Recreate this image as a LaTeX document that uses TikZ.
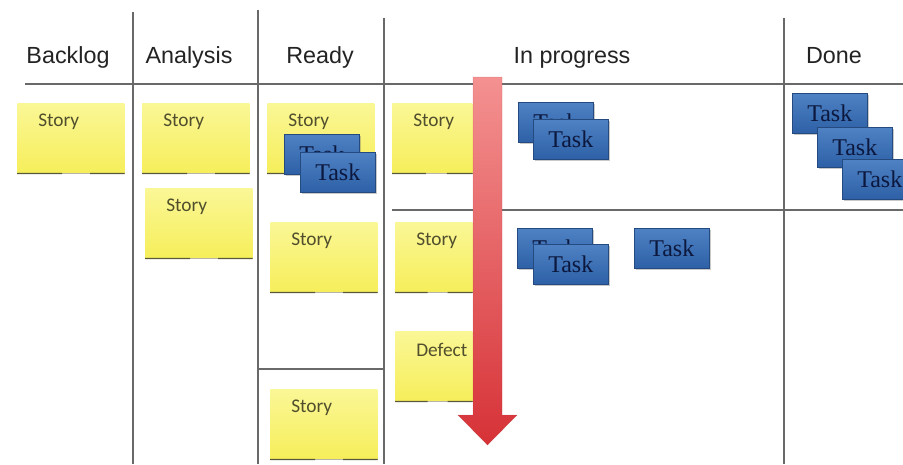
\documentclass[tikz,border=0pt]{standalone}
\usepackage{fontspec}
\setmainfont{Liberation Sans}
\newfontfamily\stickyfont{Carlito}
\newfontfamily\taskfont{Liberation Serif}
\usetikzlibrary{calc,shadows,shadings}
\definecolor{gridline}{RGB}{105,105,105}
\definecolor{headtxt}{RGB}{35,35,35}
\definecolor{stickytop}{RGB}{250,247,150}
\definecolor{stickybot}{RGB}{246,238,90}
\definecolor{stickytxt}{RGB}{80,78,45}
\definecolor{stickyedge}{RGB}{90,88,58}
\definecolor{tasktop}{RGB}{78,130,196}
\definecolor{taskbot}{RGB}{45,96,166}
\definecolor{taskborder}{RGB}{36,74,128}
\definecolor{tasktxt}{RGB}{12,24,62}
\definecolor{arrowtop}{RGB}{244,145,145}
\definecolor{arrowbot}{RGB}{214,50,55}
\tikzset{
  gridln/.style={draw=gridline, line width=1.1pt},
  headtext/.style={font=\fontsize{17.5}{20}\selectfont, text=headtxt, anchor=base, inner sep=0pt},
  sticky/.style={anchor=north west, inner sep=0pt, minimum width=80.25pt, minimum height=52.5pt,
     top color=stickytop, bottom color=stickybot, draw=none},
  narrowsticky/.style={sticky, minimum width=#1},
  stext/.style={font=\stickyfont\fontsize{14.5}{16}\selectfont, text=stickytxt, anchor=west, inner sep=0pt},
  sedge/.style={draw=stickyedge, line width=0.9pt},
  sedgelight/.style={draw=stickyedge!45, line width=0.7pt},
  taskbox/.style={anchor=north west, inner sep=0pt, minimum width=56.25pt, minimum height=30pt,
     top color=tasktop, bottom color=taskbot, draw=taskborder, line width=0.4pt,
     drop shadow={shadow xshift=1.2pt, shadow yshift=-1.5pt, opacity=0.35, fill=black!60},
     font=\taskfont\fontsize{18}{20}\selectfont, text=tasktxt},
}
\begin{document}
\begin{tikzpicture}[x=0.75pt, y=-0.75pt]
\useasboundingbox (0,0) rectangle (903,464);
\clip (0,0) rectangle (903,464);
\fill[white] (0,0) rectangle (903,464);

% grid coordinates
\coordinate (v1t) at (133,12);  \coordinate (v1b) at (133,464);
\coordinate (v2t) at (258,10);  \coordinate (v2b) at (258,464);
\coordinate (v3t) at (384,18);  \coordinate (v3b) at (384,464);
\coordinate (v4t) at (784,18);  \coordinate (v4b) at (784,464);
\coordinate (h1l) at (25,84);   \coordinate (h1r) at (903,84);
\coordinate (h2l) at (392,210); \coordinate (h2r) at (903,210);
\coordinate (h3l) at (258,369); \coordinate (h3r) at (384,369);

\draw[gridln] (v1t) -- (v1b);
\draw[gridln] (v2t) -- (v2b);
\draw[gridln] (v3t) -- (v3b);
\draw[gridln] (v4t) -- (v4b);
\draw[gridln] (h1l) -- (h1r);
\draw[gridln] (h2l) -- (h2r);
\draw[gridln] (h3l) -- (h3r);

% headers
\node[headtext] (hbacklog) at (68,63) {Backlog};
\node[headtext] (hanalysis) at (189,63) {Analysis};
\node[headtext] (hready) at (320,63) {Ready};
\node[headtext] (hprog) at (572,63) {In progress};
\node[headtext] (hdone) at (834,63) {Done};

% stickies
\node[sticky] (s1) at (17,103) {};
\node[sticky] (s2) at (142,103) {};
\node[sticky] (s3) at (145,188) {};
\node[sticky] (s4) at (267,103) {};
\node[sticky] (s5) at (270,222) {};
\node[sticky] (s6) at (270,389) {};
\node[narrowsticky=60pt] (s7) at (392,103) {};
\node[narrowsticky=57.75pt] (s8) at (395,222) {};
\node[narrowsticky=57.75pt] (s9) at (395,331) {};

\foreach \s in {s1,s2,s3,s4,s5,s6,s7,s8,s9}{
  \draw[sedgelight] (\s.south west) -- (\s.south east);
  \draw[sedge] (\s.south west) -- ($(\s.south west)!0.42!(\s.south east)$);
  \draw[sedge] ($(\s.south west)!0.68!(\s.south east)$) -- (\s.south east);
}

\node[stext] (t1) at ($(s1.north west)+(21,19)$) {Story};
\node[stext] (t2) at ($(s2.north west)+(21,19)$) {Story};
\node[stext] (t3) at ($(s3.north west)+(21,19)$) {Story};
\node[stext] (t4) at ($(s4.north west)+(21,19)$) {Story};
\node[stext] (t5) at ($(s5.north west)+(21,19)$) {Story};
\node[stext] (t6) at ($(s6.north west)+(21,19)$) {Story};
\node[stext] (t7) at ($(s7.north west)+(21,19)$) {Story};
\node[stext] (t8) at ($(s8.north west)+(21,19)$) {Story};
\node[stext] (t9) at ($(s9.north west)+(21,19)$) {Defect};

% tasks
\node[taskbox] (k1) at (284,134) {Task};
\node[taskbox] (k2) at (300,152) {Task};
\node[taskbox] (k3) at (518,102) {Task};
\node[taskbox] (k4) at (533,119) {Task};
\node[taskbox] (k5) at (517,228) {Task};
\node[taskbox] (k6) at (533,244) {Task};
\node[taskbox] (k7) at (634,228) {Task};
\node[taskbox] (k8) at (792,93) {Task};
\node[taskbox] (k9) at (817,127) {Task};
\node[taskbox] (k10) at (842,159) {Task};

% red arrow
\coordinate (atop) at (487.5,77);
\coordinate (atip) at (487.5,445);
\shade[top color=arrowtop, bottom color=arrowbot]
  (473,77) -- (502,77) -- (502,415) -- (517,415) -- (atip) -- (458,415) -- (473,415) -- cycle;
\draw[arrowbot!80!black, line width=0.3pt, opacity=0.4]
  (473,77) -- (502,77) -- (502,415) -- (517,415) -- (atip) -- (458,415) -- (473,415) -- cycle;
\end{tikzpicture}
\end{document}
